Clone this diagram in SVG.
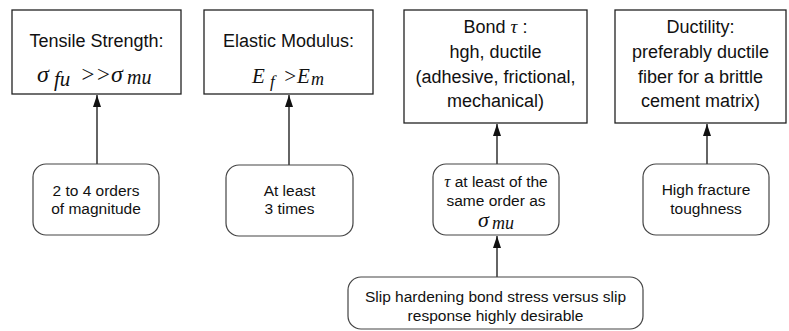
<svg xmlns="http://www.w3.org/2000/svg" width="789" height="331" viewBox="0 0 789 331">
<style>
.box{fill:#fff;stroke:#222;stroke-width:1.3}
.rbox{fill:#fff;stroke:#444;stroke-width:1.2}
.t{font-family:"Liberation Sans",Arial,sans-serif;font-size:18px;fill:#111;text-anchor:middle}
.s{font-family:"Liberation Sans",Arial,sans-serif;font-size:15.5px;fill:#111;text-anchor:middle}
.m{font-family:"Liberation Serif","Times New Roman",serif;font-style:italic;fill:#111}
.c{stroke:#111;stroke-width:1.3;fill:none}
</style>
<defs>
<marker id="ah" viewBox="0 0 12 8" refX="12" refY="4" markerWidth="12" markerHeight="8" markerUnits="userSpaceOnUse" orient="auto">
<path d="M0,0 L12,4 L0,8 Z" fill="#111"/>
</marker>
</defs>
<rect width="789" height="331" fill="#fff"/>
<g id="connectors">
<line class="c" x1="97" y1="164" x2="97" y2="95" marker-end="url(#ah)"/>
<line class="c" x1="289" y1="165" x2="289" y2="95" marker-end="url(#ah)"/>
<line class="c" x1="497" y1="164" x2="497" y2="124" marker-end="url(#ah)"/>
<line class="c" x1="707" y1="164" x2="707" y2="124" marker-end="url(#ah)"/>
<line class="c" x1="497" y1="277" x2="497" y2="236" marker-end="url(#ah)"/>
</g>
<g id="tensile">
<rect class="box" x="12" y="10" width="169" height="84"/>
<text class="t" x="96.5" y="47">Tensile Strength:</text>
<text class="m" x="37" y="82" font-size="24">σ</text>
<text class="m" x="54" y="86" font-size="21">fu</text>
<text class="m" x="80" y="82" font-size="23" font-style="normal">&gt;&gt;</text>
<text class="m" x="111" y="82" font-size="24">σ</text>
<text class="m" x="127" y="84" font-size="20">mu</text>
</g>
<g id="elastic">
<rect class="box" x="204" y="10" width="169" height="84"/>
<text class="t" x="288.5" y="47">Elastic Modulus:</text>
<text class="m" x="252" y="83" font-size="21">E</text>
<text class="m" x="270" y="87" font-size="17">f</text>
<text class="m" x="283" y="83" font-size="21" font-style="normal">&gt;</text>
<text class="m" x="297" y="83" font-size="21">E</text>
<text class="m" x="311" y="85" font-size="18">m</text>
</g>
<g id="bond">
<rect class="box" x="404" y="10" width="183" height="113"/>
<text class="t" x="495.5" y="33">Bond <tspan class="m" font-size="19">τ</tspan> :</text>
<text class="t" x="495.5" y="58">hgh, ductile</text>
<text class="t" x="495.5" y="83">(adhesive, frictional,</text>
<text class="t" x="495.5" y="107">mechanical)</text>
</g>
<g id="ductility">
<rect class="box" x="615" y="10" width="171" height="113"/>
<text class="t" x="700.5" y="33">Ductility:</text>
<text class="t" x="700.5" y="58">preferably ductile</text>
<text class="t" x="700.5" y="83">fiber for a brittle</text>
<text class="t" x="700.5" y="107">cement matrix)</text>
</g>
<g id="orders">
<rect class="rbox" x="33" y="164" width="126" height="71" rx="13"/>
<text class="s" x="96" y="196">2 to 4 orders</text>
<text class="s" x="96" y="214">of magnitude</text>
</g>
<g id="atleast">
<rect class="rbox" x="226" y="165" width="127" height="71" rx="13"/>
<text class="s" x="289.5" y="196">At least</text>
<text class="s" x="289.5" y="214">3 times</text>
</g>
<g id="tau">
<rect class="rbox" x="433" y="164" width="126" height="71" rx="13"/>
<text class="s" x="496" y="187"><tspan class="m" font-size="17">τ</tspan> at least of the</text>
<text class="s" x="496" y="206">same order as</text>
<text class="m" x="478" y="227" font-size="22">σ</text>
<text class="m" x="492" y="229" font-size="18">mu</text>
</g>
<g id="fracture">
<rect class="rbox" x="643" y="164" width="126" height="71" rx="13"/>
<text class="s" x="706" y="195">High fracture</text>
<text class="s" x="706" y="214">toughness</text>
</g>
<g id="slip">
<rect class="rbox" x="348" y="277" width="295" height="52" rx="13"/>
<text class="s" x="495.5" y="302">Slip hardening bond stress versus slip</text>
<text class="s" x="495.5" y="321">response highly desirable</text>
</g>
</svg>
